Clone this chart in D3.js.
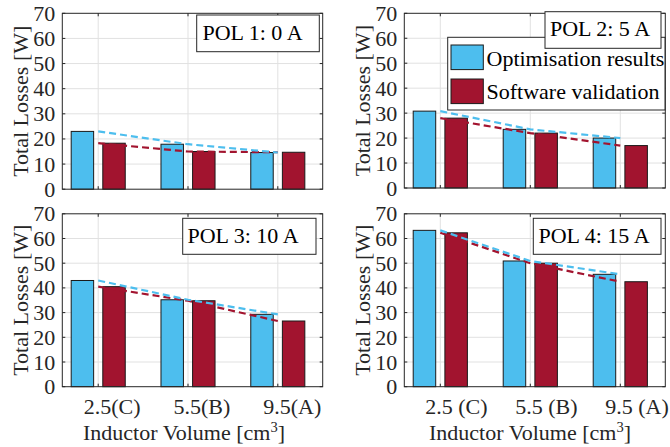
<!DOCTYPE html>
<html>
<head>
<meta charset="utf-8">
<script src="https://cdn.jsdelivr.net/npm/d3@7"></script>
<style>
  html, body { margin: 0; padding: 0; background: #fff; }
  svg { display: block; font-family: "Liberation Serif", "Times New Roman", serif; }
</style>
</head>
<body>
<svg id="chart" width="670" height="447"></svg>
<script>
// Inductor volume categories (1..3) and their tick labels
const categories = [1, 2, 3];
const tickLabelsLeft = ["2.5(C)", "5.5(B)", "9.5(A)"];
const tickLabelsRight = ["2.5 (C)", "5.5 (B)", "9.5 (A)"];
const yTicks = [0, 10, 20, 30, 40, 50, 60, 70];

// Total losses [W] per point of load
const optimisationResults = [
  [23.0, 17.9, 14.6],
  [30.8, 23.5, 20.0],
  [43.0, 35.2, 29.3],
  [63.3, 50.9, 45.5]
];
const softwareValidation = [
  [18.3, 15.0, 14.7],
  [28.0, 22.0, 17.0],
  [40.5, 34.8, 26.6],
  [62.3, 50.0, 42.5]
];
const panelTitles = ["POL 1: 0 A", "POL 2: 5 A", "POL 3: 10 A", "POL 4: 15 A"];
const seriesNames = ["Optimisation results", "Software validation"];

const BLUE = "#4DBEEE";
const RED = "#A2142F";
const AXIS = "#262626";
const GRID = "#e1e1e1";
const FS = 22;

const svg = d3.select("#chart");

// Panel geometry
const panels = [
  { l: 62.3, r: 322.7, t: 13.3, b: 189.2, title: { x: 196.7, y: 15, w: 122.6, h: 36.7, tx: 202.5, ty: 40 } },
  { l: 404.3, r: 665.3, t: 13.3, b: 188, title: { x: 545, y: 11.7, w: 116, h: 36.6, tx: 550, ty: 35.7 } },
  { l: 62.3, r: 322.7, t: 213.8, b: 386.7, title: { x: 182.7, y: 218.3, w: 133.3, h: 36, tx: 187.5, ty: 242.7 },
    ticks: tickLabelsLeft, tickStart: -14.5, xlabelX: 83 },
  { l: 404.3, r: 665.3, t: 213.8, b: 386.7, title: { x: 533.3, y: 218.3, w: 127.7, h: 36, tx: 538.5, ty: 242.7 },
    ticks: tickLabelsRight, tickStart: -15, xlabelX: 429 }
];

const barOffset = 0.176, barWidth = 0.25;

panels.forEach((p, i) => {
  const g = svg.append("g");
  const x = d3.scaleLinear().domain([0.6, 3.5]).range([p.l, p.r]);
  const y = d3.scaleLinear().domain([0, 70]).range([p.b, p.t]);

  // grid
  g.append("g").selectAll("line.h").data(yTicks.slice(1, -1)).join("line")
    .attr("x1", p.l).attr("x2", p.r)
    .attr("y1", d => y(d)).attr("y2", d => y(d))
    .attr("stroke", GRID).attr("stroke-width", 1);
  g.append("g").selectAll("line.v").data(categories).join("line")
    .attr("x1", d => x(d)).attr("x2", d => x(d))
    .attr("y1", p.t).attr("y2", p.b)
    .attr("stroke", GRID).attr("stroke-width", 1);

  // bars
  const opt = optimisationResults[i], val = softwareValidation[i];
  const bw = x(1 + barWidth) - x(1);
  g.append("g").selectAll("rect").data(categories).join("rect")
    .attr("x", (d) => x(d - barOffset) - bw / 2)
    .attr("width", bw)
    .attr("y", (d, k) => y(opt[k]))
    .attr("height", (d, k) => y(0) - y(opt[k]))
    .attr("fill", BLUE).attr("stroke", "#1a1a1a").attr("stroke-width", 1);
  g.append("g").selectAll("rect").data(categories).join("rect")
    .attr("x", (d) => x(d + barOffset) - bw / 2)
    .attr("width", bw)
    .attr("y", (d, k) => y(val[k]))
    .attr("height", (d, k) => y(0) - y(val[k]))
    .attr("fill", RED).attr("stroke", "#1a1a1a").attr("stroke-width", 1);

  // dashed trend lines through each series
  const line = d3.line().x((d, k) => x(categories[k])).y(d => y(d));
  g.append("path").datum(val).attr("d", line)
    .attr("fill", "none").attr("stroke", RED).attr("stroke-width", 2.2)
    .attr("stroke-dasharray", "7,4");
  g.append("path").datum(opt).attr("d", line)
    .attr("fill", "none").attr("stroke", BLUE).attr("stroke-width", 2.2)
    .attr("stroke-dasharray", "7,4");

  // axes box
  g.append("rect").attr("x", p.l).attr("y", p.t)
    .attr("width", p.r - p.l).attr("height", p.b - p.t)
    .attr("fill", "none").attr("stroke", AXIS).attr("stroke-width", 1);

  // inward ticks
  const tl = 3;
  const yt = g.append("g").attr("stroke", AXIS).attr("stroke-width", 1);
  yTicks.forEach(v => {
    yt.append("line").attr("x1", p.l).attr("x2", p.l + tl).attr("y1", y(v)).attr("y2", y(v));
    yt.append("line").attr("x1", p.r).attr("x2", p.r - tl).attr("y1", y(v)).attr("y2", y(v));
  });
  categories.forEach(c => {
    yt.append("line").attr("x1", x(c)).attr("x2", x(c)).attr("y1", p.b).attr("y2", p.b - tl);
    yt.append("line").attr("x1", x(c)).attr("x2", x(c)).attr("y1", p.t).attr("y2", p.t + tl);
  });

  // y tick labels
  g.append("g").selectAll("text").data(yTicks).join("text")
    .attr("x", p.l - 7).attr("y", d => y(d))
    .attr("text-anchor", "end").attr("dominant-baseline", "central")
    .attr("font-size", FS).attr("fill", AXIS)
    .text(d => d);

  // y axis label
  const ly = (p.t + p.b) / 2;
  g.append("text")
    .attr("transform", `translate(${p.l - 34},${ly}) rotate(-90)`)
    .attr("text-anchor", "middle")
    .attr("font-size", FS).attr("fill", AXIS)
    .text("Total Losses [W]");

  // x tick labels and axis label on the bottom row
  if (p.ticks) {
    g.append("g").selectAll("text").data(categories).join("text")
      .attr("x", d => x(d) + p.tickStart).attr("y", 413.5)
      .attr("text-anchor", "start")
      .attr("font-size", FS).attr("fill", AXIS)
      .text((d, k) => p.ticks[k]);
    const xl = g.append("text").attr("x", p.xlabelX).attr("y", 440)
      .attr("font-size", FS).attr("fill", AXIS);
    xl.append("tspan").text("Inductor Volume [cm");
    xl.append("tspan").attr("font-size", 14.5).attr("dy", -8).text("3");
    xl.append("tspan").attr("dy", 8).text("]");
  }

  // legend in the second panel
  if (i === 1) {
    const lg = g.append("g");
    lg.append("rect").attr("x", 447.7).attr("y", 37.3).attr("width", 217.3).attr("height", 72.7)
      .attr("fill", "#fff").attr("stroke", AXIS).attr("stroke-width", 1);
    [BLUE, RED].forEach((c, k) => {
      lg.append("rect").attr("x", 451).attr("y", 45 + k * 34).attr("width", 32.3).attr("height", 24.6)
        .attr("fill", c).attr("stroke", "#1a1a1a").attr("stroke-width", 1);
      lg.append("text").attr("x", 486.5).attr("y", 65.8 + k * 33.5)
        .attr("font-size", FS).attr("fill", "#000").text(seriesNames[k]);
    });
  }

  // title box
  const t = p.title;
  g.append("rect").attr("x", t.x).attr("y", t.y).attr("width", t.w).attr("height", t.h)
    .attr("fill", "#fff").attr("stroke", AXIS).attr("stroke-width", 1);
  g.append("text").attr("x", t.tx).attr("y", t.ty)
    .attr("font-size", FS).attr("fill", "#000").text(panelTitles[i]);
});
</script>
</body>
</html>
